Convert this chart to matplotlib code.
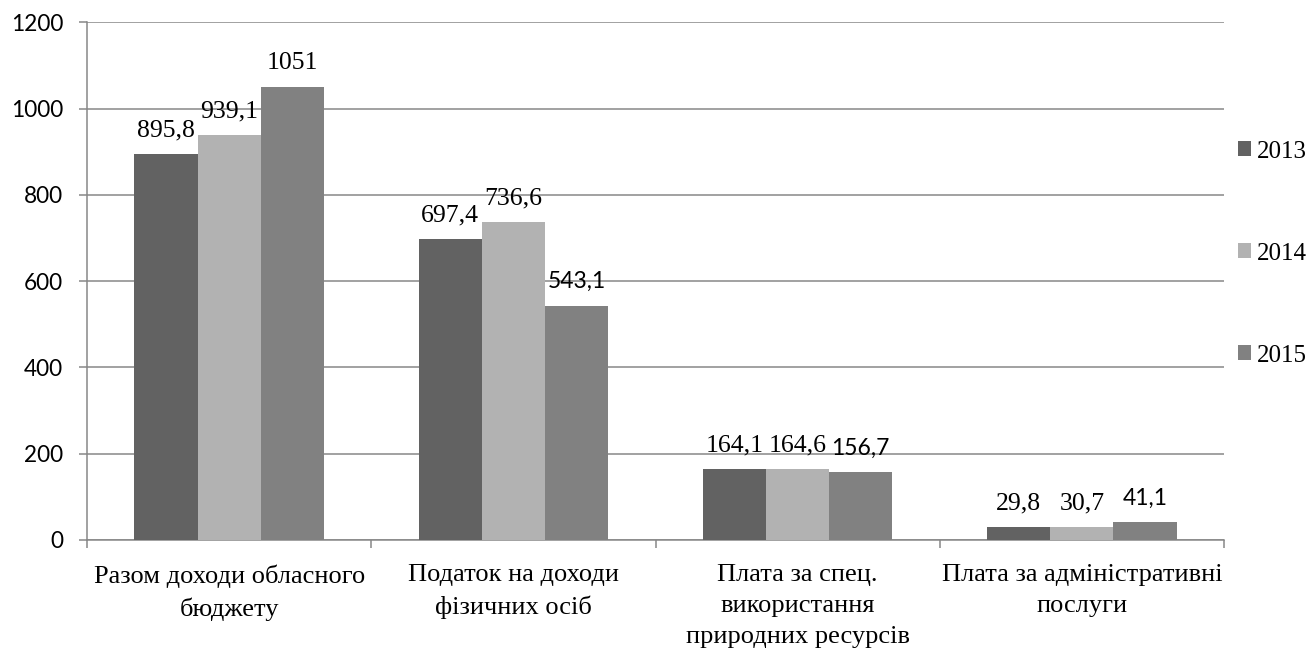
import matplotlib
matplotlib.use("Agg")
import matplotlib.pyplot as plt
from matplotlib.patches import Patch
import numpy as np

# Revenue items of the oblast budget, 2013-2015
categories = [
    "Разом доходи обласного\nбюджету",
    "Податок на доходи\nфізичних осіб",
    "Плата за спец.\nвикористання\nприродних ресурсів",
    "Плата за адміністративні\nпослуги",
]
years = ["2013", "2014", "2015"]
values_2013 = [895.8, 697.4, 164.1, 29.8]
values_2014 = [939.1, 736.6, 164.6, 30.7]
values_2015 = [1051, 543.1, 156.7, 41.1]
yticks = [0, 200, 400, 600, 800, 1000, 1200]

series = [values_2013, values_2014, values_2015]
colors = ["#626262", "#b2b2b2", "#818181"]
grid_color = "#878787"

serif = ["Liberation Serif", "DejaVu Serif"]
sans = ["Lato", "DejaVu Sans"]


def fmt(v):
    s = f"{v:g}"
    return s.replace(".", ",")


fig = plt.figure(figsize=(13.14, 6.48), dpi=100)
ax = fig.add_axes([87 / 1314, 1 - 540 / 648, (1224 - 87) / 1314, (540 - 22.3) / 648])

x = np.arange(len(categories))
bar_w = 0.222
offsets = [-bar_w, 0.0, bar_w]

for i, (vals, col) in enumerate(zip(series, colors)):
    bars = ax.bar(x + offsets[i], vals, width=bar_w, color=col, zorder=3,
                  label=years[i])
    for j, (b, v) in enumerate(zip(bars, vals)):
        # the 2015 labels of the lower groups are set in a sans face
        fam = sans if (i == 2 and j > 0) else serif
        size = 16.5 if fam is sans else 18.5
        ax.annotate(fmt(v), (b.get_x() + b.get_width() / 2, v),
                    xytext=(0, 12.6), textcoords="offset points",
                    ha="center", va="baseline", fontsize=size,
                    family=fam, color="black", zorder=4)

ax.set_xlim(-0.5, len(categories) - 0.5)
ax.set_ylim(0, 1200)
ax.set_yticks(yticks)
ax.set_yticklabels([str(t) for t in yticks], family=sans, fontsize=16.3)
ax.yaxis.grid(True, color=grid_color, linewidth=1.1, zorder=0)
ax.set_axisbelow(True)

ax.set_xticks(x)
ax.set_xticklabels(categories, family=serif, fontsize=19, linespacing=1.53,
                   va="top")
ax.set_xticks(np.arange(-0.5, len(categories)), minor=True)
ax.tick_params(axis="x", which="major", length=0, pad=17.3)
ax.tick_params(axis="x", which="minor", length=5.5, width=1.1, color=grid_color,
               direction="out")
ax.tick_params(axis="y", which="major", length=5.5, width=1.1, color=grid_color,
               direction="out", pad=11.7)

for side in ("top", "right"):
    ax.spines[side].set_visible(False)
for side in ("left", "bottom"):
    ax.spines[side].set_color(grid_color)
    ax.spines[side].set_linewidth(1.1)

handles = [Patch(facecolor=c, edgecolor="none", label=y) for c, y in zip(colors, years)]
fig.legend(handles=handles, loc="center left",
           bbox_to_anchor=(1238 / 1314, 1 - 253.5 / 648),
           frameon=False, borderpad=0, borderaxespad=0,
           handlelength=0.52, handleheight=0.52, handletextpad=0.25,
           labelspacing=3.2, prop={"family": serif, "size": 18})

fig.savefig("out.png", dpi=100)
